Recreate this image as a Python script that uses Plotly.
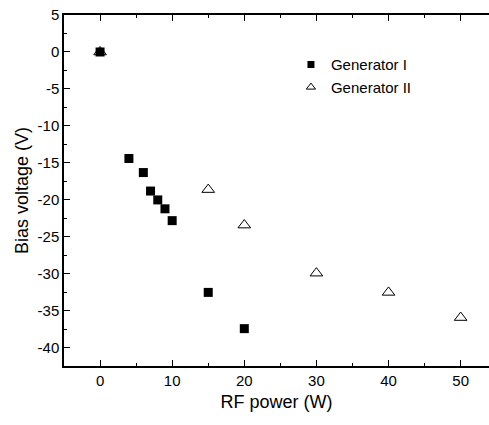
import plotly.graph_objects as go

gen1_power = [0, 4, 6, 7, 8, 9, 10, 15, 20]
gen1_bias = [0, -14.4, -16.3, -18.8, -20.0, -21.2, -22.8, -32.5, -37.4]
gen2_power = [0, 15, 20, 30, 40, 50]
gen2_bias = [0, -18.6, -23.4, -29.9, -32.5, -35.9]
x_ticks = [0, 10, 20, 30, 40, 50]
y_ticks = [5, 0, -5, -10, -15, -20, -25, -30, -35, -40]
y_ticktext = [str(v) for v in y_ticks]

fig = go.Figure()
fig.add_trace(go.Scatter(x=gen1_power, y=gen1_bias, mode="markers", name="Generator I",
                         showlegend=False,
                         marker=dict(symbol="square", size=9, color="black")))
fig.add_trace(go.Scatter(x=gen2_power, y=gen2_bias, mode="markers", name="Generator II",
                         showlegend=False,
                         marker=dict(symbol="triangle-up-open", size=11, color="black",
                                     line=dict(width=1, color="black"))))
# legend entries with smaller symbols
fig.add_trace(go.Scatter(x=[None], y=[None], mode="markers", name="Generator I",
                         marker=dict(symbol="square", size=7, color="black")))
fig.add_trace(go.Scatter(x=[None], y=[None], mode="markers", name="Generator II",
                         marker=dict(symbol="triangle-up-open", size=8, color="black",
                                     line=dict(width=1, color="black"))))

font = "Liberation Sans, Arial, sans-serif"
fig.update_layout(
    width=489, height=425,
    margin=dict(l=64, r=0, t=15, b=59),
    plot_bgcolor="white", paper_bgcolor="white",
    font=dict(family=font, size=15, color="black"),
    showlegend=True,
    legend=dict(x=0.534, y=0.905, xanchor="left", yanchor="top",
                bgcolor="rgba(0,0,0,0)", font=dict(size=15), itemsizing="trace",
                tracegroupgap=0, itemwidth=30),
    xaxis=dict(range=[-5, 53.93], showgrid=False, zeroline=False,
               showline=True, linecolor="black", linewidth=1.5, mirror="ticks",
               ticks="inside", ticklen=6, tickwidth=1, tickcolor="black",
               tickvals=x_ticks,
               minor=dict(ticks="inside", ticklen=3, tickvals=[-5, 5, 15, 25, 35, 45], tickcolor="black"),
               title=dict(text="RF power (W)", font=dict(size=18), standoff=8),
               tickfont=dict(size=15)),
    yaxis=dict(range=[-42.45, 5], showgrid=False, zeroline=False,
               showline=True, linecolor="black", linewidth=1.5, mirror=False,
               ticks="inside", ticklen=6, tickwidth=1, tickcolor="black",
               tickvals=y_ticks, ticktext=y_ticktext,
               minor=dict(ticks="inside", ticklen=3, dtick=2.5, tickcolor="black"),
               title=dict(text="Bias voltage (V)", font=dict(size=18), standoff=4),
               tickfont=dict(size=15)),
)
fig.write_html("out.html")
